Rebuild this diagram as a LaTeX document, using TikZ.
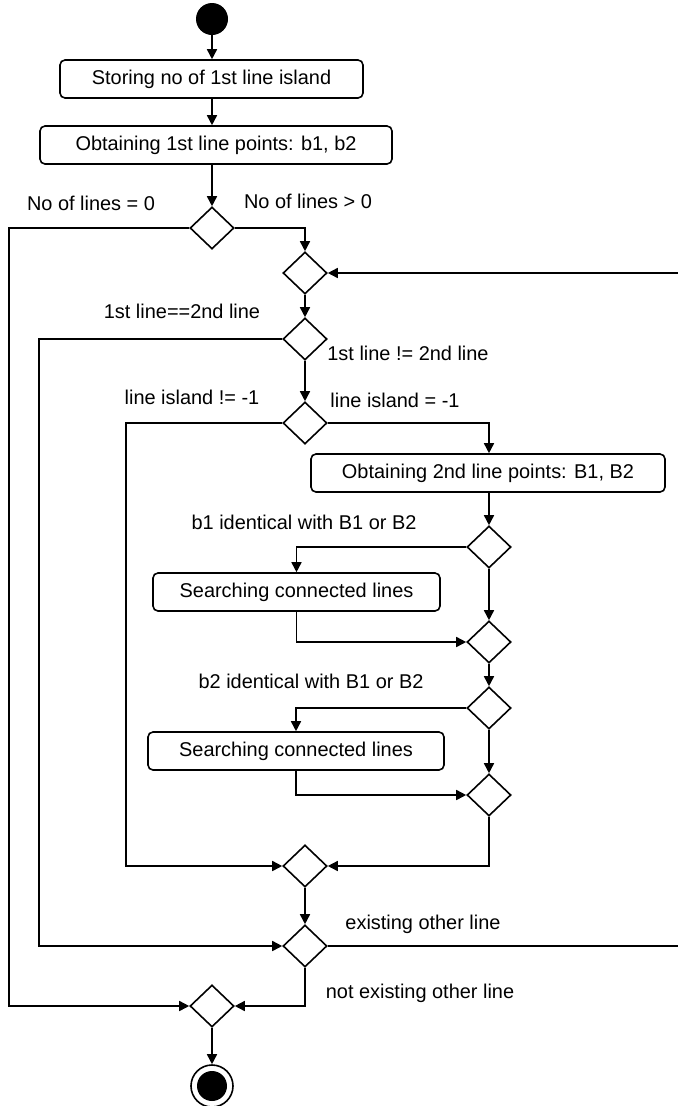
\documentclass[tikz,border=0pt]{standalone}
\usepackage{fontspec}
\setmainfont{Liberation Sans}
\usetikzlibrary{arrows.meta,shapes.geometric}

\tikzset{
  base/.style={line width=1.6bp, draw=black},
  action/.style={base, rectangle, rounded corners=5bp, minimum height=38bp,
    inner sep=0pt, font=\fontsize{20}{24}\selectfont, text height=14.5bp, text depth=4bp},
  decision/.style={base, diamond, aspect=1, inner sep=0pt,
    minimum width=44bp, minimum height=42bp, fill=white},
  startnode/.style={circle, fill=black, minimum size=32bp, inner sep=0pt},
  endnode/.style={base, circle, minimum size=42bp, inner sep=0pt, fill=white},
  guard/.style={font=\fontsize{20}{24}\selectfont, inner sep=0pt,
    text height=14.5bp, text depth=4bp},
  flow/.style={base, -{Triangle[length=10bp,width=10bp]}},
}

\begin{document}
\begin{tikzpicture}[x=1bp, y=-1bp]
\useasboundingbox (0,0) rectangle (678,1106);
\clip (0,0) rectangle (678,1106);

% main column
\node[startnode] (start) at (212,19) {};
\node[action, minimum width=303bp] (s1) at (211.5,79) {Storing no of 1st line island};
\node[action, minimum width=352bp] (s2) at (216,145) {Obtaining 1st line points: b1, b2};
\node[decision] (d1) at (212,228) {};
\node[decision] (d2) at (305,273) {};
\node[decision] (d3) at (305,339) {};
\node[decision] (d4) at (305,423) {};
\node[action, minimum width=354bp] (s3) at (488,473) {Obtaining 2nd line points: B1, B2};
\node[decision] (d5) at (489,547) {};
\node[action, minimum width=287bp] (s4) at (296.5,592) {Searching connected lines};
\node[decision] (d6) at (489,642) {};
\node[decision] (d7) at (489,708) {};
\node[action, minimum width=296bp] (s5) at (296,751) {Searching connected lines};
\node[decision] (d8) at (489,795) {};
\node[decision] (d9) at (305,866) {};
\node[decision] (d10) at (305,946) {};
\node[decision] (d11) at (212,1006) {};
\node[endnode] (end) at (212,1086) {};
\fill (end.center) circle (15bp);

% bends of the outer branches
\coordinate (lx1) at (9,0);
\coordinate (lx2) at (39,0);
\coordinate (lx3) at (126,0);
\coordinate (rx) at (700,0);

% guards
\node[guard] (g1) at (91,205) {No of lines = 0};
\node[guard] (g2) at (308,203) {No of lines > 0};
\node[guard] (g3) at (182,313) {1st line==2nd line};
\node[guard] (g4) at (408,355) {1st line != 2nd line};
\node[guard] (g5) at (192,399) {line island != -1};
\node[guard] (g6) at (395,402) {line island = -1};
\node[guard] (g7) at (304,524) {b1 identical with B1 or B2};
\node[guard] (g8) at (311,683) {b2 identical with B1 or B2};
\node[guard] (g9) at (423,924) {existing other line};
\node[guard] (g10) at (420,993) {not existing other line};

% connectors
\draw[flow] (start) -- (start |- s1.north);
\draw[flow] (start |- s1.south) -- (start |- s2.north);
\draw[flow] (start |- s2.south) -- (d1.north);
\draw[flow] (d1.west) -| (lx1 |- d11.west) -- (d11.west);
\draw[flow] (d1.east) -| (d2.north);
\draw[flow] (d2.south) -- (d3.north);
\draw[flow] (d3.south) -- (d4.north);
\draw[flow] (d3.west) -| (lx2 |- d10.west) -- (d10.west);
\draw[flow] (d4.west) -| (lx3 |- d9.west) -- (d9.west);
\draw[flow] (d4.east) -| (s3.north -| d5);
\draw[flow] (d5 |- s3.south) -- (d5.north);
\draw[flow] (d5.west) -| (s4.north);
\draw[flow] (s4.south) |- (d6.west);
\draw[flow] (d5.south) -- (d6.north);
\draw[flow] (d6.south) -- (d7.north);
\draw[flow] (d7.west) -| (s5.north);
\draw[flow] (s5.south) |- (d8.west);
\draw[flow] (d7.south) -- (d8.north);
\draw[flow] (d8.south) |- (d9.east);
\draw[flow] (d9.south) -- (d10.north);
\draw[flow] (d10.east) -- (rx |- d10.east) |- (d2.east);
\draw[flow] (d10.south) |- (d11.east);
\draw[flow] (d11.south) -- (end.north);
\end{tikzpicture}
\end{document}
